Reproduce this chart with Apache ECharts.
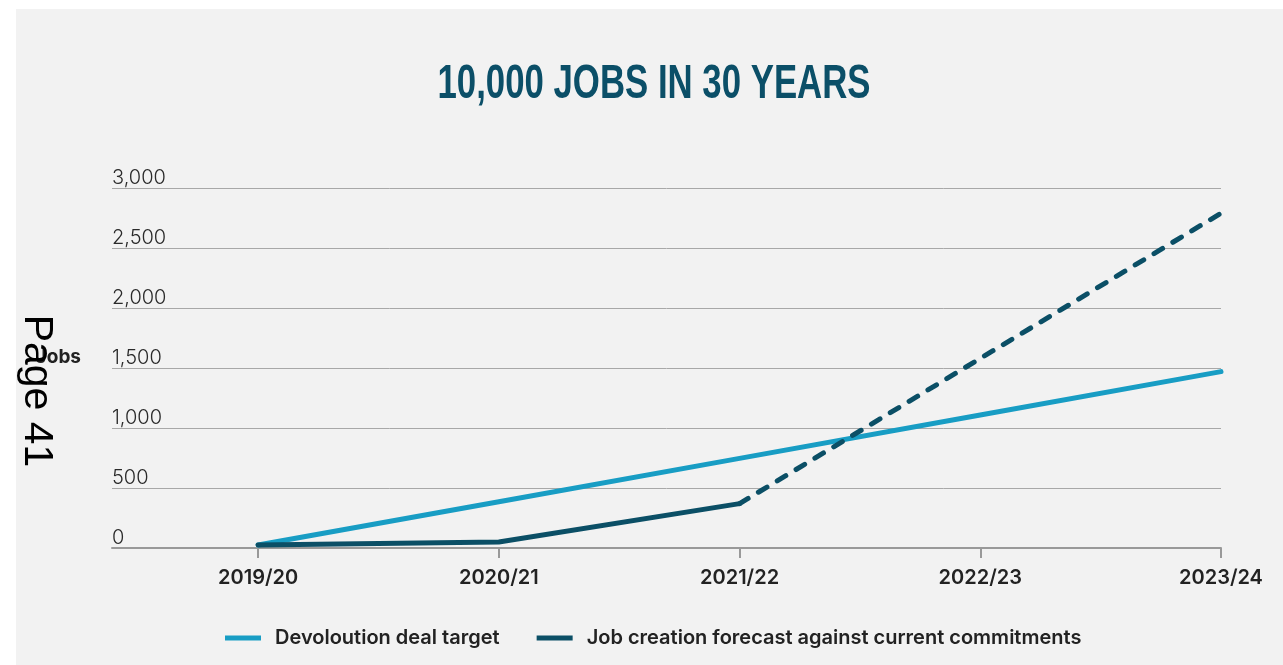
<!DOCTYPE html>
<html>
<head>
<meta charset="utf-8">
<script src="https://cdn.jsdelivr.net/npm/echarts@6/dist/echarts.min.js"></script>
<style>
html,body{margin:0;padding:0;background:#ffffff;}
#bg{position:absolute;left:16px;top:9px;right:0;bottom:0;background:#f2f2f2;}
#chart{position:absolute;left:0;top:0;width:1283px;height:665px;}
</style>
</head>
<body>
<div id="bg"></div>
<div id="chart"></div>
<script>
// ---- data ----
const categories = ['2019/20', '2020/21', '2021/22', '2022/23', '2023/24'];
const targetValues = [25, 386, 747, 1108, 1470];
const forecastCommitted = [25, 50, 370, null, null];
const forecastProjected = [null, null, 370, 1580, 2790];
const seriesNames = ['Devoloution deal target', 'Job creation forecast against current commitments'];
const titleText = '10,000 JOBS IN 30 YEARS';
const yAxisName = 'Jobs';
const pageLabel = 'Page 41';

function toPoints(values) {
  const pts = [];
  values.forEach((v, i) => { if (v !== null) pts.push([i, v]); });
  return pts;
}

// title width fit
const titleFont = 'bold 49px "Liberation Sans Narrow", "Liberation Sans", sans-serif';
const cv = document.createElement('canvas').getContext('2d');
cv.font = titleFont;
const titleScale = 433 / cv.measureText(titleText).width;

const chart = echarts.init(document.getElementById('chart'), null, {renderer: 'canvas'});
const lightColor = '#189dc4';
const darkColor = '#0b4f66';

chart.setOption({
  animation: false,
  backgroundColor: 'transparent',
  grid: {left: 112, right: 62, top: 188, bottom: 117, containLabel: false},
  xAxis: {
    type: 'value',
    min: -0.607,
    max: categories.length - 1,
    splitLine: {show: false},
    axisLine: {show: true, lineStyle: {color: '#999999', width: 2}},
    axisTick: {show: true, customValues: categories.map((c, i) => i), length: 10, lineStyle: {color: '#999999', width: 2}},
    axisLabel: {
      customValues: categories.map((c, i) => i),
      formatter: v => categories[Math.round(v)] || '',
      margin: 20,
      color: '#222222',
      fontFamily: 'Inter, "Noto Sans", sans-serif',
      fontWeight: 600,
      fontSize: 20
    }
  },
  yAxis: {
    type: 'value',
    min: 0,
    max: 3000,
    interval: 500,
    axisLine: {show: false},
    axisTick: {show: false},
    splitLine: {show: true, lineStyle: {color: '#a8a8a8', width: 1}},
    axisLabel: {
      inside: true,
      margin: 0,
      align: 'left',
      verticalAlign: 'bottom',
      padding: [0, 0, 0, 0],
      formatter: v => v.toLocaleString('en-US'),
      color: '#2a2a2a',
      fontFamily: 'Inter, "Noto Sans", sans-serif',
      fontWeight: 300,
      fontSize: 20
    }
  },
  legend: {
    data: seriesNames,
    left: 220,
    top: 621,
    icon: 'rect',
    itemWidth: 36,
    itemHeight: 5,
    itemGap: 37,
    itemStyle: {borderWidth: 0},
    textStyle: {
      color: '#222222',
      fontFamily: 'Inter, "Noto Sans", sans-serif',
      fontWeight: 600,
      fontSize: 20,
      lineHeight: 24,
      padding: [0, 0, 0, 9]
    }
  },
  series: [
    {
      name: seriesNames[0], type: 'line', symbol: 'none', z: 2,
      data: toPoints(targetValues),
      itemStyle: {color: lightColor},
      lineStyle: {color: lightColor, width: 5, cap: 'round', join: 'round'}
    },
    {
      name: seriesNames[1], type: 'line', symbol: 'none', z: 3,
      data: toPoints(forecastCommitted),
      itemStyle: {color: darkColor},
      lineStyle: {color: darkColor, width: 5, cap: 'round', join: 'round'}
    },
    {
      name: seriesNames[1], type: 'line', symbol: 'none', z: 3,
      data: toPoints(forecastProjected),
      itemStyle: {color: darkColor},
      lineStyle: {color: darkColor, width: 5, type: [10, 12], cap: 'round', join: 'round'}
    }
  ],
  graphic: [
    {
      type: 'text', x: 654, y: 84, scaleX: titleScale, z: 10,
      style: {text: titleText, font: titleFont, fill: '#0b4f68', align: 'center', verticalAlign: 'middle'}
    },
    {
      type: 'text', x: 81, y: 357, z: 10,
      style: {text: yAxisName, font: 'bold 19px Inter, "Noto Sans", sans-serif', fill: '#222222', align: 'right', verticalAlign: 'middle'}
    },
    {
      type: 'text', x: 36, y: 391, rotation: -Math.PI / 2, z: 20,
      style: {text: pageLabel, font: '41px "Liberation Sans", Arial, sans-serif', fill: '#000000', align: 'center', verticalAlign: 'middle'}
    }
  ]
});
</script>
</body>
</html>
